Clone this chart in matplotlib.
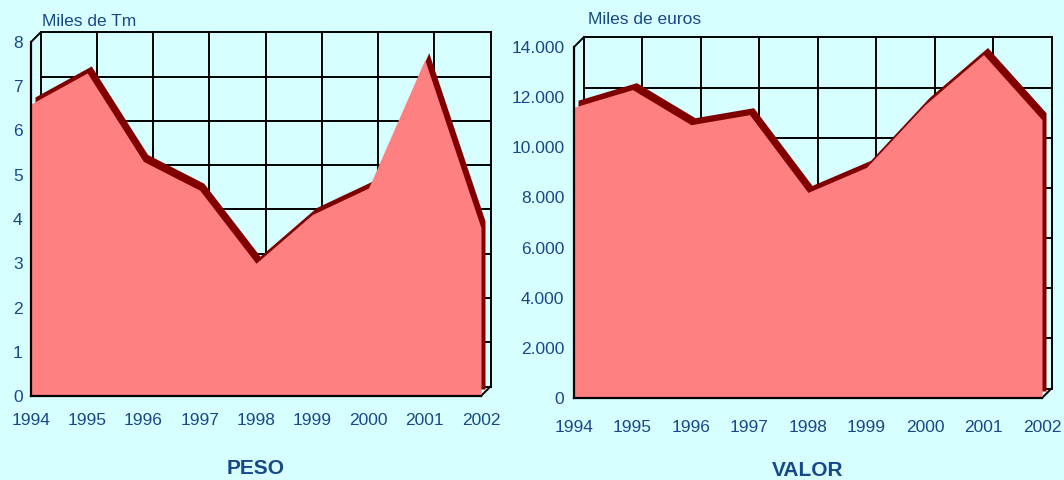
import matplotlib.pyplot as plt
from matplotlib.patches import ConnectionPatch
from matplotlib.ticker import FuncFormatter
from matplotlib.transforms import ScaledTranslation

# data
years = [1994, 1995, 1996, 1997, 1998, 1999, 2000, 2001, 2002]
peso = [6.6, 7.3, 5.3, 4.65, 3.0, 4.1, 4.7, 7.6, 3.8]  # miles de Tm
valor = [11600, 12300, 10900, 11300, 8200, 9200, 11700, 13700, 11100]  # miles de euros

peso_ticks = [0, 1, 2, 3, 4, 5, 6, 7, 8]
valor_ticks = [0, 2000, 4000, 6000, 8000, 10000, 12000, 14000]

BG = "#D8FFFF"
FILL = "#FF8080"
EDGE = "#800000"
TXT = "#17488A"

plt.rcParams["font.family"] = ["Liberation Sans", "DejaVu Sans"]

fig = plt.figure(figsize=(10.64, 4.8), dpi=100, facecolor=BG)


def miles(v, _pos):
    return f"{int(v):,}".replace(",", ".")


def panel(rect, values, yticks, unit, unit_off, title, xpad, ypad, fmt=None):
    ax = fig.add_axes(rect)
    ax.set_facecolor("none")
    ymax = yticks[-1]
    ax.set_xlim(years[0], years[-1])
    ax.set_ylim(0, ymax)

    # back wall of the pseudo 3D box, shifted up/right
    back = ax.transData + ScaledTranslation(0.095, 0.095, fig.dpi_scale_trans)
    for v in yticks:
        ax.plot([years[0], years[-1]], [v, v], color="black", lw=1.4,
                transform=back, clip_on=False, zorder=1)
    for yr in years:
        ax.plot([yr, yr], [0, ymax], color="black", lw=1.4,
                transform=back, clip_on=False, zorder=1)

    # edges joining front and back planes
    for xy in [(years[0], ymax), (years[-1], 0)]:
        con = ConnectionPatch(xyA=xy, coordsA=ax.transData, xyB=xy, coordsB=back,
                              color="black", lw=1.4, zorder=1)
        ax.add_artist(con)

    # area with its dark top face
    top = ax.fill_between(years, values, color=EDGE, lw=0, zorder=2, clip_on=False)
    top.set_transform(ax.transData + ScaledTranslation(0.04, 0.07, fig.dpi_scale_trans))
    ax.fill_between(years, values, color=FILL, lw=0, zorder=3)

    for s in ["top", "right"]:
        ax.spines[s].set_visible(False)
    for s in ["left", "bottom"]:
        ax.spines[s].set_color("black")
        ax.spines[s].set_linewidth(1.6)
        ax.spines[s].set_zorder(4)

    ax.set_xticks(years)
    ax.set_yticks(yticks)
    if fmt is not None:
        ax.yaxis.set_major_formatter(FuncFormatter(fmt))
    ax.tick_params(axis="x", length=0, pad=xpad, labelsize=12.5, labelcolor=TXT)
    ax.tick_params(axis="y", length=0, pad=ypad, labelsize=12.5, labelcolor=TXT)

    ax.annotate(unit, xy=(0, 1), xycoords="axes fraction", xytext=unit_off,
                textcoords="offset pixels", ha="left", va="center",
                fontsize=12.5, color=TXT)
    ax.annotate(title, xy=(0.5, 0), xycoords="axes fraction", xytext=(0, -72),
                textcoords="offset pixels", ha="center", va="center",
                fontsize=15, fontweight="bold", color=TXT)
    return ax


panel([31 / 1064, 84 / 480, 450 / 1064, 354 / 480], peso, peso_ticks,
      "Miles de Tm", (11, 20), "PESO", 12, 6)
panel([574 / 1064, 82 / 480, 468 / 1064, 351 / 480], valor, valor_ticks,
      "Miles de euros", (14, 27), "VALOR", 16, 7, fmt=miles)

fig.savefig("out.png", dpi=100, facecolor=BG)
